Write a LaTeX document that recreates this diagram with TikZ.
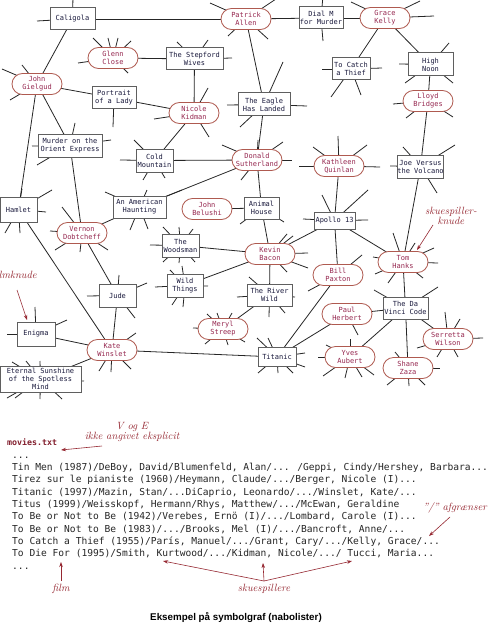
\documentclass[tikz,border=0pt]{standalone}
\usepackage{fontspec}
\newfontfamily\monof{DejaVu Sans Mono}
\newfontfamily\capf{Liberation Sans}
\usetikzlibrary{arrows.meta}
\definecolor{filmtxt}{RGB}{25,25,60}
\definecolor{filmbd}{RGB}{95,95,95}
\definecolor{actortxt}{RGB}{150,40,80}
\definecolor{actorbd}{RGB}{175,90,80}
\definecolor{annot}{RGB}{150,40,50}
\definecolor{movtxt}{RGB}{130,30,45}
\pgfdeclarelayer{bg}
\pgfsetlayers{bg,main}
\tikzset{
  film/.style={draw=filmbd, line width=1pt, fill=white, inner sep=0pt, align=center,
    font=\monof\fontsize{7}{8}\selectfont, text=filmtxt},
  actor/.style={draw=actorbd, line width=0.8pt, fill=white, rounded corners=10.5pt,
    inner sep=0pt, minimum width=50pt, minimum height=21pt, align=center,
    font=\monof\fontsize{7}{8}\selectfont, text=actortxt},
  edge/.style={line width=0.8pt, black!85},
  ann/.style={text=annot, font=\itshape\fontsize{10.5}{10}\selectfont, align=center, inner sep=0pt},
  annarrow/.style={draw=annot, line width=0.6pt, -{Stealth[length=5pt,width=3.5pt]}},
  codeline/.style={font=\monof\fontsize{9.6}{12}\selectfont, anchor=base west, inner sep=0pt, text=black!85},
}
\newcommand\stubs[2]{\foreach \sx/\sy in {#2}{\draw[edge] (#1.center) -- (\sx,-\sy);}}
\begin{document}
\begin{tikzpicture}[x=1pt,y=1pt]
\useasboundingbox (0,0) rectangle (491,-623);
\clip (0,0) rectangle (491,-623);
% films
\node[film, minimum width=45pt, minimum height=22pt] (caligola) at (72.5,-19) {Caligola};
\node[film, minimum width=44pt, minimum height=22pt] (dialm) at (321,-18) {Dial M\\for Murder};
\node[film, minimum width=57pt, minimum height=22pt] (stepford) at (194.5,-59) {The Stepford\\Wives};
\node[film, minimum width=44pt, minimum height=22pt] (portrait) at (114,-98) {Portrait\\of a Lady};
\node[film, minimum width=52pt, minimum height=23pt] (eagle) at (264,-104.5) {The Eagle\\Has Landed};
\node[film, minimum width=38pt, minimum height=22pt] (catch) at (351,-69) {To Catch\\a Thief};
\node[film, minimum width=45pt, minimum height=23pt] (noon) at (430.5,-64.5) {High\\Noon};
\node[film, minimum width=64pt, minimum height=23pt] (murder) at (70,-145.5) {Murder on the\\Orient Express};
\node[film, minimum width=37pt, minimum height=23pt] (cold) at (154.5,-160.5) {Cold\\Mountain};
\node[film, minimum width=45pt, minimum height=23pt] (joe) at (420.5,-166.5) {Joe Versus\\the Volcano};
\node[film, minimum width=37pt, minimum height=25pt] (hamlet) at (18.5,-209.5) {Hamlet};
\node[film, minimum width=53pt, minimum height=22pt] (haunting) at (139.5,-207) {An American\\Haunting};
\node[film, minimum width=35pt, minimum height=22pt] (animal) at (261.5,-208) {Animal\\House};
\node[film, minimum width=41pt, minimum height=17pt] (apollo) at (334.5,-220.5) {Apollo 13};
\node[film, minimum width=37pt, minimum height=23pt] (woodsman) at (180.5,-245.5) {The\\Woodsman};
\node[film, minimum width=36pt, minimum height=23pt] (wild) at (185,-285.5) {Wild\\Things};
\node[film, minimum width=37pt, minimum height=23pt] (jude) at (117.5,-295.5) {Jude};
\node[film, minimum width=45pt, minimum height=22pt] (river) at (269.5,-295) {The River\\Wild};
\node[film, minimum width=45pt, minimum height=22pt] (davinci) at (405.5,-308) {The Da\\Vinci Code};
\node[film, minimum width=38pt, minimum height=24pt] (enigma) at (36,-334) {Enigma};
\node[film, minimum width=38pt, minimum height=19pt] (titanic) at (277,-357) {Titanic};
\node[film, minimum width=81pt, minimum height=26pt] (eternal) at (40.5,-379) {Eternal Sunshine\\of the Spotless\\Mind};
% actors
\node[actor] (patrick) at (246,-19) {Patrick\\Allen};
\node[actor] (grace) at (385,-18) {Grace\\Kelly};
\node[actor] (glenn) at (113,-58) {Glenn\\Close};
\node[actor] (gielgud) at (37,-84) {John\\Gielgud};
\node[actor] (nicole) at (194,-113) {Nicole\\Kidman};
\node[actor] (lloyd) at (428,-101) {Lloyd\\Bridges};
\node[actor] (donald) at (257,-160) {Donald\\Sutherland};
\node[actor] (kathleen) at (339,-166) {Kathleen\\Quinlan};
\node[actor] (belushi) at (207,-209) {John\\Belushi};
\node[actor] (vernon) at (82,-233) {Vernon\\Dobtcheff};
\node[actor] (kevin) at (270,-254) {Kevin\\Bacon};
\node[actor] (tom) at (403,-262) {Tom\\Hanks};
\node[actor] (bill) at (338,-275) {Bill\\Paxton};
\node[actor] (meryl) at (223,-329) {Meryl\\Streep};
\node[actor] (paul) at (347,-314) {Paul\\Herbert};
\node[actor] (kate) at (112,-350) {Kate\\Winslet};
\node[actor] (serretta) at (448,-339) {Serretta\\Wilson};
\node[actor] (yves) at (350,-357) {Yves\\Aubert};
\node[actor] (shane) at (408,-368) {Shane\\Zaza};
\begin{pgfonlayer}{bg}
\fill[white] (0,0) rectangle (491,-623);
\foreach \a/\b in {caligola/patrick, caligola/gielgud, patrick/dialm, dialm/grace, grace/catch,
  grace/noon, noon/lloyd, lloyd/joe, patrick/eagle, glenn/stepford, stepford/nicole,
  gielgud/portrait, portrait/nicole, gielgud/murder, gielgud/hamlet, nicole/cold, cold/donald,
  eagle/donald, donald/haunting, donald/animal, murder/vernon, hamlet/kate, vernon/haunting,
  vernon/jude, jude/kate, enigma/kate, eternal/kate, kate/titanic, belushi/animal, animal/kevin,
  woodsman/kevin, wild/kevin, kevin/apollo, kevin/river, river/meryl, apollo/bill, apollo/tom,
  apollo/kathleen, joe/tom, tom/davinci, davinci/paul, davinci/yves, davinci/shane,
  davinci/serretta, bill/titanic, paul/titanic}
  {\draw[edge] (\a.center) -- (\b.center);}
\stubs{caligola}{73/-4, 37/21}
\stubs{patrick}{210/3, 228/36, 276/-1, 268/39}
\stubs{dialm}{323/-4, 323/41}
\stubs{grace}{351/2, 420/1, 434/16}
\stubs{catch}{322/69, 382/68, 331/97, 361/95}
\stubs{noon}{399/64, 449/43, 405/83, 453/83}
\stubs{lloyd}{393/104, 406/118, 453/117}
\stubs{eagle}{307/106, 283/62, 240/127, 227/105}
\stubs{donald}{222/145, 258/140, 283/142, 292/160, 241/180}
\stubs{glenn}{93/38, 108/38, 118/38, 131/41, 78/63, 128/73}
\stubs{stepford}{177/42, 208/40, 232/58}
\stubs{gielgud}{2/69, 22/65, 10/100}
\stubs{portrait}{113/127}
\stubs{nicole}{208/88, 154/119, 209/137}
\stubs{murder}{32/146, 75/123, 111/140, 37/165}
\stubs{cold}{134/140, 120/160, 143/180, 165/178}
\stubs{hamlet}{52/190, 22/189, 46/212, 5/233, 20/233}
\stubs{haunting}{105/192, 147/190, 182/190, 130/230, 148/229}
\stubs{vernon}{62/207, 50/231, 55/250, 80/252, 108/250}
\stubs{animal}{240/224, 284/222}
\stubs{woodsman}{163/227, 179/227, 193/229, 150/245, 163/262, 179/263, 195/262}
\stubs{wild}{170/270, 182/266, 155/287, 208/286, 183/307, 172/305}
\stubs{jude}{119/275, 147/283, 87/296, 135/318}
\stubs{enigma}{35/307, 67/320, 7/334}
\stubs{kate}{136/333, 99/371, 111/372, 131/369}
\stubs{eternal}{12/362, 26/361, 40/361, 84/381, 7/398, 15/398, 40/399, 62/399}
\stubs{kevin}{287/234, 293/236, 308/253, 308/268, 287/272}
\stubs{apollo}{322/195, 303/219, 368/220, 368/190}
\stubs{tom}{393/233, 373/257, 415/243, 434/248, 438/263, 375/274, 388/283, 423/278}
\stubs{bill}{362/255, 308/291}
\stubs{river}{249/277, 237/297, 295/297, 269/317, 285/313}
\stubs{meryl}{207/314, 217/313, 232/313, 193/328, 205/344, 228/345, 245/342}
\stubs{paul}{358/335}
\stubs{davinci}{374/290, 438/287}
\stubs{serretta}{445/312, 460/319, 483/338, 417/348, 437/357, 458/357}
\stubs{titanic}{257/338, 268/338, 305/353, 305/367, 258/373, 278/373, 293/373}
\stubs{yves}{326/345, 350/339, 318/357, 323/376, 345/378, 362/377, 374/375}
\stubs{shane}{395/352, 440/368, 387/385, 409/386, 425/385}
\stubs{kathleen}{338/136, 313/147, 367/145, 299/166, 380/167}
\stubs{joe}{403/147, 390/166, 455/145, 437/193}
\end{pgfonlayer}
% annotations in graph
\node[ann, anchor=east] (filmknude) at (37,-276) {filmknude};
\coordinate (enigmatip) at (27,-320);
\draw[annarrow] (17,-290) -- (enigmatip);
\node[ann] (skn) at (451,-216) {skuespiller-\\knude};
\coordinate (tomtip) at (417,-250);
\draw[annarrow] (433,-225) -- (tomtip);
% file text
\node[anchor=base west, inner sep=0pt, text=movtxt, font=\monof\bfseries\fontsize{8.3}{10}\selectfont] (movies) at (7,-445) {movies.txt};
\node[ann] (vogE) at (132,-432) {V og E\\ikke angivet eksplicit};
\coordinate (movtip) at (61,-450);
\draw[annarrow] (102,-446) -- (movtip);
\node[codeline] (l0) at (12,-458) {...};
\node[codeline] (l1) at (12,-470.37) {Tin Men (1987)/DeBoy, David/Blumenfeld, Alan/... /Geppi, Cindy/Hershey, Barbara...};
\node[codeline] (l2) at (12,-482.74) {Tirez sur le pianiste (1960)/Heymann, Claude/.../Berger, Nicole (I)...};
\node[codeline] (l3) at (12,-495.11) {Titanic (1997)/Mazin, Stan/...DiCaprio, Leonardo/.../Winslet, Kate/...};
\node[codeline] (l4) at (12,-507.48) {Titus (1999)/Weisskopf, Hermann/Rhys, Matthew/.../McEwan, Geraldine};
\node[codeline] (l5) at (12,-519.85) {To Be or Not to Be (1942)/Verebes, Ernö (I)/.../Lombard, Carole (I)...};
\node[codeline] (l6) at (12,-532.22) {To Be or Not to Be (1983)/.../Brooks, Mel (I)/.../Bancroft, Anne/...};
\node[codeline] (l7) at (12,-544.59) {To Catch a Thief (1955)/París, Manuel/.../Grant, Cary/.../Kelly, Grace/...};
\node[codeline] (l8) at (12,-556.96) {To Die For (1995)/Smith, Kurtwood/.../Kidman, Nicole/.../ Tucci, Maria...};
\node[codeline] (l9) at (12,-569.33) {...};
\node[ann] (filmlab) at (61,-589) {film};
\coordinate (filmtip) at (61,-562);
\draw[annarrow] (61,-581) -- (filmtip);
\node[ann] (skuelab) at (264,-589) {skuespillere};
\coordinate (s1) at (163,-561);
\coordinate (s2) at (263,-563);
\coordinate (s3) at (352,-561);
\draw[annarrow] (264,-581) -- (s1);
\draw[annarrow] (264,-581) -- (s2);
\draw[annarrow] (264,-581) -- (s3);
\node[ann] (afg) at (455,-508) {"/" afgrænser};
\coordinate (afgtip) at (429,-536);
\draw[annarrow] (450,-517) -- (afgtip);
\node[font=\capf\bfseries\fontsize{9.8}{11}\selectfont, inner sep=0pt] (caption) at (236,-617.5) {Eksempel på symbolgraf (nabolister)};
\end{tikzpicture}
\end{document}
